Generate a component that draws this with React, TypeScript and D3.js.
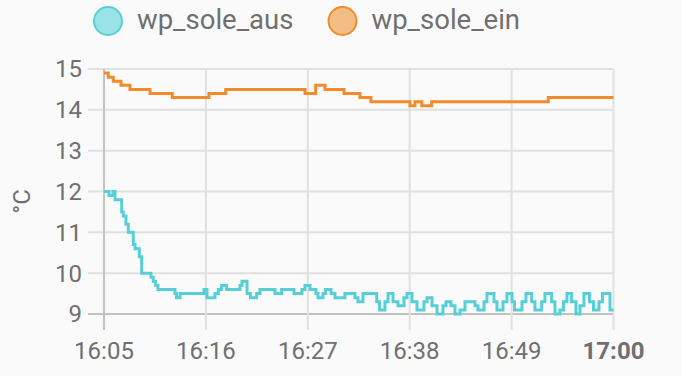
import React from 'react';
import * as d3 from 'd3';

const seriesNames = ['wp_sole_aus', 'wp_sole_ein'];
const lineColors = ['#56cfd7', '#f28b2c'];
const fillColors = ['#9ae4e8', '#f3be86'];
const yTicks = [9, 10, 11, 12, 13, 14, 15];
const xTickLabels = ['16:05', '16:16', '16:27', '16:38', '16:49', '17:00'];

// minutes after 16:05
const ausMinutes = [0, 0.54, 0.97, 1.19, 1.91, 2.08, 2.37, 2.62, 3.16, 3.35, 3.81, 4.07, 5.07, 5.32, 5.58, 5.83, 7.66, 7.83, 8.2, 10.79, 11.12, 11.98, 12.34, 12.7, 13.24, 14.68, 14.9, 15.44, 15.81, 16.48, 16.84, 18.46, 19.18, 20.51, 21.37, 21.7, 22.24, 22.88, 23.1, 23.64, 23.91, 24.51, 24.93, 26.01, 27.09, 27.42, 27.96, 29.44, 29.74, 30.33, 30.66, 31.2, 31.74, 32.38, 32.71, 33.25, 33.79, 34.54, 34.87, 35.41, 35.95, 36.59, 36.92, 37.46, 37.89, 38.43, 38.97, 40.05, 40.37, 41.02, 41.34, 42.1, 42.42, 43.07, 43.5, 44.04, 44.31, 45.12, 45.55, 46.17, 46.52, 47.25, 47.6, 48.32, 48.68, 49.22, 49.6, 49.98, 50.47, 50.95, 51.38, 51.81, 52.41, 52.84, 53.43, 53.81, 54.62, 55];
const ausValues = [12.0, 11.9, 12.0, 11.8, 11.5, 11.4, 11.2, 11.0, 10.7, 10.6, 10.4, 10.0, 9.9, 9.8, 9.7, 9.6, 9.5, 9.4, 9.5, 9.6, 9.4, 9.5, 9.6, 9.7, 9.6, 9.7, 9.8, 9.5, 9.4, 9.5, 9.6, 9.5, 9.6, 9.5, 9.6, 9.7, 9.6, 9.5, 9.4, 9.5, 9.6, 9.5, 9.4, 9.5, 9.4, 9.3, 9.5, 9.3, 9.1, 9.3, 9.5, 9.3, 9.2, 9.4, 9.5, 9.3, 9.1, 9.3, 9.4, 9.2, 9.0, 9.2, 9.3, 9.2, 9.0, 9.1, 9.3, 9.2, 9.1, 9.3, 9.5, 9.3, 9.1, 9.3, 9.5, 9.3, 9.1, 9.3, 9.5, 9.3, 9.1, 9.3, 9.5, 9.3, 9.0, 9.1, 9.3, 9.5, 9.3, 9.0, 9.2, 9.5, 9.3, 9.1, 9.3, 9.5, 9.1, 9.1];

const einMinutes = [0, 0.46, 1.0, 1.84, 2.81, 4.97, 7.37, 11.33, 13.14, 21.7, 22.85, 23.86, 25.91, 27.63, 28.82, 33.03, 33.57, 34.3, 35.37, 47.96, 55];
const einValues = [14.9, 14.8, 14.7, 14.6, 14.5, 14.4, 14.3, 14.4, 14.5, 14.4, 14.6, 14.5, 14.4, 14.3, 14.2, 14.1, 14.2, 14.1, 14.2, 14.3, 14.3];

const W = 682;
const H = 376;
const left = 104;
const right = 613.5;
const top = 69;
const bottom = 314;

const t0 = new Date(2024, 0, 1, 16, 5).getTime();
const toDate = (m: number) => new Date(t0 + m * 60000);
const parseLabel = (s: string) => {
  const [h, mm] = s.split(':').map(Number);
  return new Date(2024, 0, 1, h, mm);
};

export default function App() {
  const x = d3.scaleTime().domain([parseLabel('16:05'), parseLabel('17:00')]).range([left, right]);
  const y = d3.scaleLinear().domain([9, 15]).range([bottom, top]);
  const line = d3
    .line<[number, number]>()
    .x((d) => x(toDate(d[0])))
    .y((d) => y(d[1]))
    .curve(d3.curveStepAfter);
  const aus = ausMinutes.map((m, i) => [m, ausValues[i]] as [number, number]);
  const ein = einMinutes.map((m, i) => [m, einValues[i]] as [number, number]);
  const textColor = '#707070';
  const font = 'Roboto, sans-serif';
  return (
    <svg width={W} height={H} style={{ position: 'absolute', left: 0, top: 0, background: '#fafafa' }}>
      <rect x={0} y={0} width={W} height={H} fill="#fafafa" />
      {/* horizontal grid */}
      {yTicks.map((t) => (
        <line key={'h' + t} x1={left - 16} x2={right} y1={y(t)} y2={y(t)} stroke={t === 9 ? '#c2c2c2' : '#e0e0e0'} strokeWidth={2} />
      ))}
      {/* vertical grid */}
      {xTickLabels.map((l, i) => (
        <line key={'v' + l} x1={x(parseLabel(l))} x2={x(parseLabel(l))} y1={top} y2={bottom + 16} stroke={i === 0 ? '#c2c2c2' : '#e0e0e0'} strokeWidth={2} />
      ))}
      {yTicks.map((t) => (
        <text key={'yt' + t} x={left - 22} y={y(t)} dy="0.35em" textAnchor="end" fontFamily={font} fontSize={24} fill={textColor}>
          {t}
        </text>
      ))}
      {xTickLabels.map((l, i) => (
        <text key={'xt' + l} x={x(parseLabel(l))} y={359} textAnchor="middle" fontFamily={font} fontSize={24} fontWeight={i === xTickLabels.length - 1 ? 'bold' : 'normal'} fill={textColor}>
          {l}
        </text>
      ))}
      <text transform={`translate(30,${(top + bottom) / 2 + 10}) rotate(-90)`} textAnchor="middle" fontFamily={font} fontSize={24} fill={textColor}>
        °C
      </text>
      <path d={line(aus) || ''} fill="none" stroke={lineColors[0]} strokeWidth={3} />
      <path d={line(ein) || ''} fill="none" stroke={lineColors[1]} strokeWidth={3} />
      {/* legend */}
      {seriesNames.map((n, i) => {
        const cx = i === 0 ? 108 : 342.5;
        return (
          <g key={n}>
            <circle cx={cx} cy={21} r={14} fill={fillColors[i]} stroke={lineColors[i]} strokeWidth={2} />
            <text x={cx + 29} y={29} fontFamily={font} fontSize={27.5} fill={textColor}>
              {n}
            </text>
          </g>
        );
      })}
    </svg>
  );
}
